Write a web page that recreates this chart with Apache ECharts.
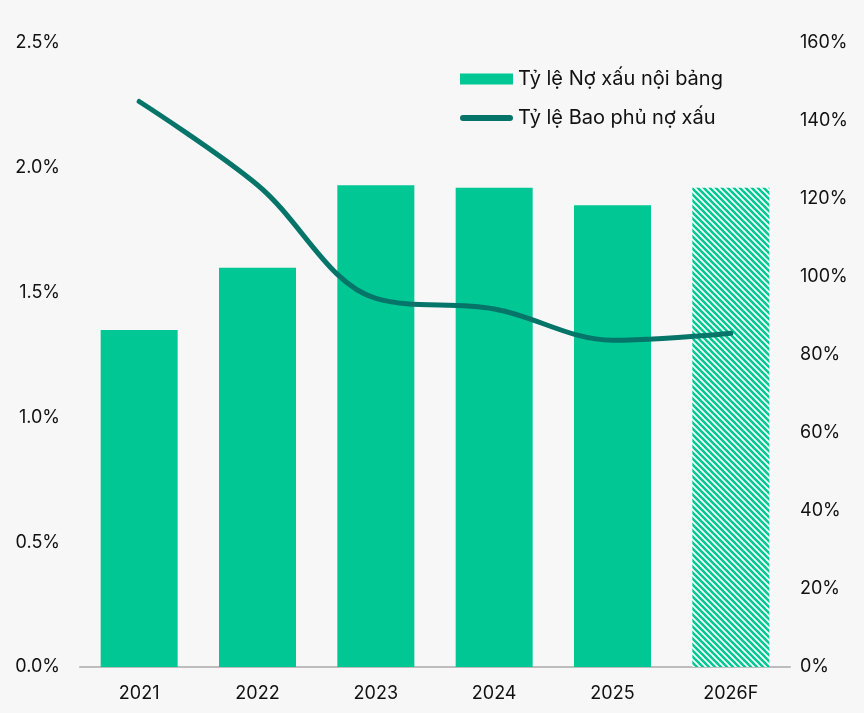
<!DOCTYPE html>
<html>
<head>
<meta charset="utf-8">
<script src="https://cdn.jsdelivr.net/npm/echarts@6/dist/echarts.min.js"></script>
<style>
  html, body { margin: 0; padding: 0; background: #f7f7f7; }
  #main { width: 864px; height: 713px; }
</style>
</head>
<body>
<div id="main"></div>
<script>
const years = ["2021", "2022", "2023", "2024", "2025", "2026F"];
const nplRatio = [1.35, 1.60, 1.93, 1.92, 1.85, 1.92]; // Tỷ lệ Nợ xấu nội bảng (%)
const coverageRatio = [145, 123.6, 94.5, 91.8, 83.8, 85.6]; // Tỷ lệ Bao phủ nợ xấu (%)

const barColor = "#00c794";
const lineColor = "#05756a";

// hatch pattern for the forecast bar
const makeHatch = () => {
  const c = document.createElement("canvas");
  c.width = 6;
  c.height = 6;
  const ctx = c.getContext("2d");
  ctx.fillStyle = "#ffffff";
  ctx.fillRect(0, 0, 6, 6);
  ctx.strokeStyle = barColor;
  ctx.lineWidth = 2.6;
  for (let k = -6; k <= 6; k += 6) {
    ctx.beginPath();
    ctx.moveTo(k - 1, -1);
    ctx.lineTo(k + 7, 7);
    ctx.stroke();
  }
  return c;
};
const hatch = { image: makeHatch(), repeat: "repeat" };

const chart = echarts.init(document.getElementById("main"));

const option = {
  backgroundColor: "#f7f7f7",
  textStyle: { fontFamily: "Inter" },
  animation: false,
  grid: { left: 80, right: 74, top: 43, bottom: 46 },
  legend: {
    orient: "vertical",
    left: 455,
    top: 64,
    itemWidth: 53,
    itemHeight: 11,
    itemGap: 19,
    textStyle: { fontSize: 20, color: "#111", fontFamily: "Inter" },
    data: [
      { name: "Tỷ lệ Nợ xấu nội bảng", icon: "rect", itemStyle: { color: barColor } },
      {
        name: "Tỷ lệ Bao phủ nợ xấu",
        icon: "path://M3,0 L51,0 A3,3 0 0 1 51,6 L3,6 A3,3 0 0 1 3,0 Z",
        itemStyle: { color: lineColor }
      }
    ]
  },
  xAxis: {
    type: "category",
    data: years,
    axisLine: { lineStyle: { color: "#bdbdbd", width: 2 } },
    axisTick: { show: false },
    axisLabel: { color: "#111", fontSize: 18, margin: 18 }
  },
  yAxis: [
    {
      type: "value",
      min: 0,
      max: 2.5,
      interval: 0.5,
      splitLine: { show: false },
      axisLabel: {
        color: "#111",
        fontSize: 18,
        margin: 20,
        formatter: (v) => v.toFixed(1) + "%"
      }
    },
    {
      type: "value",
      min: 0,
      max: 160,
      interval: 20,
      splitLine: { show: false },
      axisLabel: {
        color: "#111",
        fontSize: 18,
        margin: 10,
        formatter: (v) => v + "%"
      }
    }
  ],
  series: [
    {
      name: "Tỷ lệ Nợ xấu nội bảng",
      type: "bar",
      barWidth: 77,
      data: nplRatio.map((v, i) =>
        i === years.length - 1 ? { value: v, itemStyle: { color: hatch } } : v
      ),
      itemStyle: { color: barColor }
    },
    {
      name: "Tỷ lệ Bao phủ nợ xấu",
      type: "line",
      yAxisIndex: 1,
      data: coverageRatio,
      smooth: 0.35,
      symbol: "none",
      lineStyle: { color: lineColor, width: 5, cap: "round" },
      itemStyle: { color: lineColor }
    }
  ]
};

chart.setOption(option);
</script>
</body>
</html>
